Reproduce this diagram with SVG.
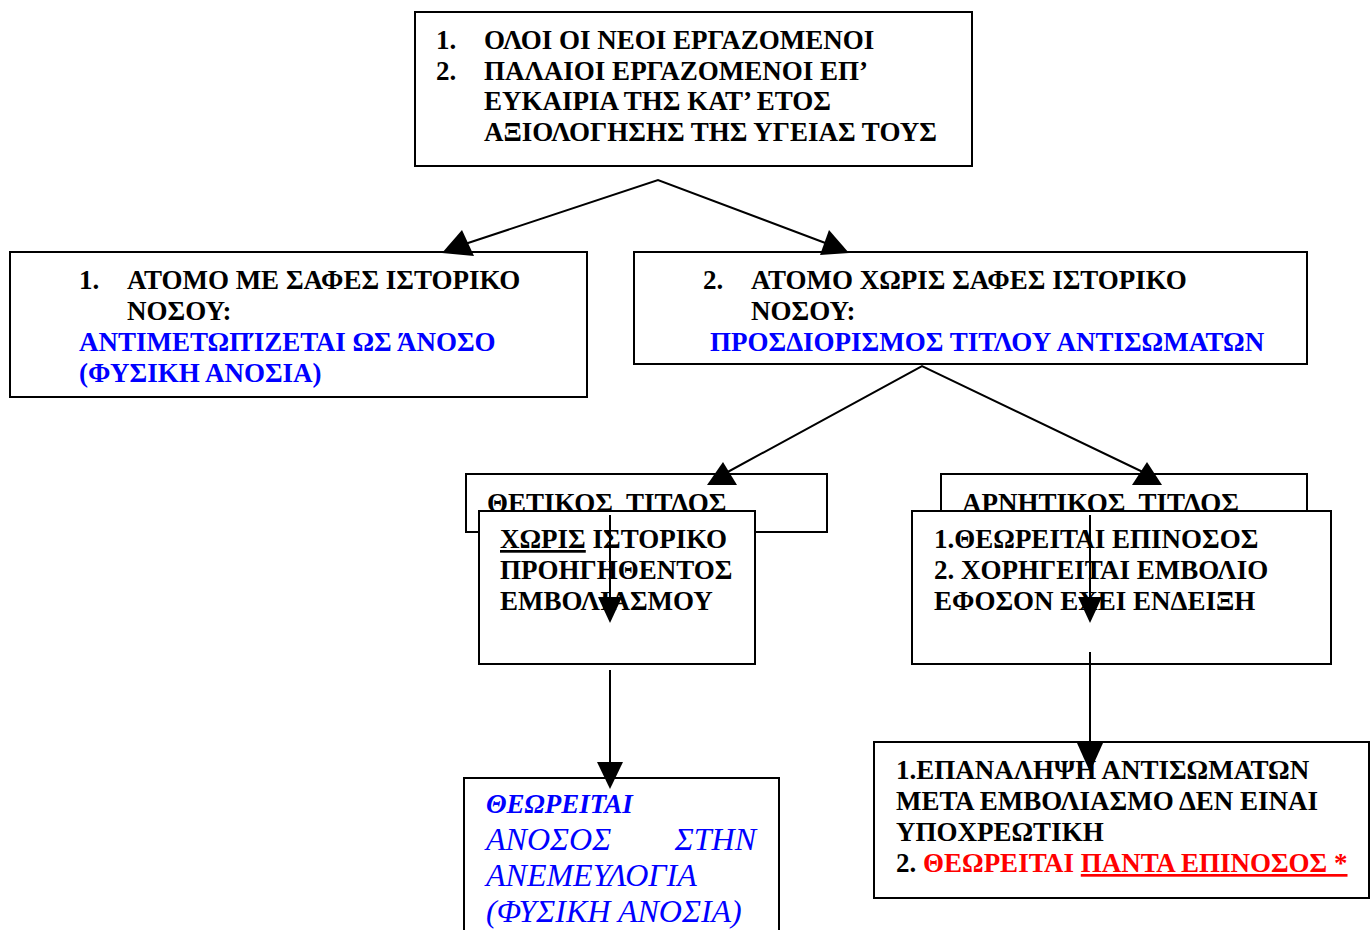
<svg xmlns="http://www.w3.org/2000/svg" width="1372" height="930" viewBox="0 0 1372 930">
<style>
.box{fill:#fff;stroke:#000;stroke-width:2}
text{font-family:"Liberation Serif","Times New Roman",serif;font-size:27px;font-weight:bold;fill:#000}
.b{fill:#0000ff}
.r{fill:#ff0000}
.it{font-style:italic;font-weight:normal;font-size:32px;fill:#0000ff}
.ln{stroke:#000;stroke-width:2;fill:none}
.hd{fill:#000}
</style>
<rect width="1372" height="930" fill="#fff"/>
<g id="n1">
<rect class="box" x="415" y="12" width="557" height="154"/>
<text x="436" y="49">1.</text><text x="484" y="49">ΟΛΟΙ ΟΙ ΝΕΟΙ ΕΡΓΑΖΟΜΕΝΟΙ</text>
<text x="436" y="80">2.</text><text x="484" y="80">ΠΑΛΑΙΟΙ ΕΡΓΑΖΟΜΕΝΟΙ ΕΠ’</text>
<text x="484" y="110">ΕΥΚΑΙΡΙΑ ΤΗΣ ΚΑΤ’ ΕΤΟΣ</text>
<text x="484" y="141">ΑΞΙΟΛΟΓΗΣΗΣ ΤΗΣ ΥΓΕΙΑΣ ΤΟΥΣ</text>
</g>
<g id="n2">
<rect class="box" x="10" y="252" width="577" height="145"/>
<text x="79" y="289">1.</text><text x="127" y="289">ΑΤΟΜΟ ΜΕ ΣΑΦΕΣ ΙΣΤΟΡΙΚΟ</text>
<text x="127" y="320">ΝΟΣΟΥ:</text>
<text class="b" x="79" y="351">ΑΝΤΙΜΕΤΩΠΊΖΕΤΑΙ ΩΣ ΆΝΟΣΟ</text>
<text class="b" x="79" y="382">(ΦΥΣΙΚΗ ΑΝΟΣΙΑ)</text>
</g>
<g id="n3">
<rect class="box" x="634" y="252" width="673" height="112"/>
<text x="703" y="289">2.</text><text x="751" y="289">ΑΤΟΜΟ ΧΩΡΙΣ ΣΑΦΕΣ ΙΣΤΟΡΙΚΟ</text>
<text x="751" y="320">ΝΟΣΟΥ:</text>
<text class="b" x="710" y="351">ΠΡΟΣΔΙΟΡΙΣΜΟΣ ΤΙΤΛΟΥ ΑΝΤΙΣΩΜΑΤΩΝ</text>
</g>
<g id="n4">
<rect class="box" x="466" y="474" width="361" height="58"/>
<text x="487" y="512" xml:space="preserve">ΘΕΤΙΚΟΣ  ΤΙΤΛΟΣ</text>
</g>
<g id="n6">
<rect class="box" x="941" y="474" width="366" height="50"/>
<text x="962" y="512" xml:space="preserve">ΑΡΝΗΤΙΚΟΣ  ΤΙΤΛΟΣ</text>
</g>
<g id="n5">
<rect class="box" x="479" y="511" width="276" height="153"/>
<text x="500" y="548"><tspan text-decoration="underline">ΧΩΡΙΣ</tspan> ΙΣΤΟΡΙΚΟ</text>
<text x="500" y="579">ΠΡΟΗΓΗΘΕΝΤΟΣ</text>
<text x="500" y="610">ΕΜΒΟΛΙΑΣΜΟΥ</text>
</g>
<g id="n7">
<rect class="box" x="912" y="511" width="419" height="153"/>
<text x="934" y="548">1.ΘΕΩΡΕΙΤΑΙ ΕΠΙΝΟΣΟΣ</text>
<text x="934" y="579">2. ΧΟΡΗΓΕΙΤΑΙ ΕΜΒΟΛΙΟ</text>
<text x="934" y="610">ΕΦΟΣΟΝ ΕΧΕΙ ΕΝΔΕΙΞΗ</text>
</g>
<g id="n8">
<rect class="box" x="464" y="778" width="315" height="160"/>
<text class="b" x="486" y="813" font-style="italic">ΘΕΩΡΕΙΤΑΙ</text>
<text class="it" x="486" y="850">ΑΝΟΣΟΣ</text><text class="it" x="756" y="850" text-anchor="end">ΣΤΗΝ</text>
<text class="it" x="486" y="886">ΑΝΕΜΕΥΛΟΓΙΑ</text>
<text class="it" x="486" y="922">(ΦΥΣΙΚΗ ΑΝΟΣΙΑ)</text>
</g>
<g id="n9">
<rect class="box" x="874" y="742" width="495" height="156"/>
<text x="896" y="779">1.ΕΠΑΝΑΛΗΨΗ ΑΝΤΙΣΩΜΑΤΩΝ</text>
<text x="896" y="810">ΜΕΤΑ ΕΜΒΟΛΙΑΣΜΟ ΔΕΝ ΕΙΝΑΙ</text>
<text x="896" y="841">ΥΠΟΧΡΕΩΤΙΚΗ</text>
<text x="896" y="872">2. <tspan class="r">ΘΕΩΡΕΙΤΑΙ </tspan><tspan class="r" text-decoration="underline">ΠΑΝΤΑ ΕΠΙΝΟΣΟΣ *</tspan></text>
</g>
<g id="connectors">
<path class="ln" d="M465,244 L658,180 L828,244"/>
<polygon class="hd" points="442,253 462,230 474,256"/>
<polygon class="hd" points="849,253 820,255 829,230"/>
<path class="ln" d="M724,474 L922,366 L1147,474"/>
<polygon class="hd" points="707,485 737,485 723,462"/>
<polygon class="hd" points="1132,485 1162,485 1147,462"/>
<line class="ln" x1="610" y1="515" x2="610" y2="600"/>
<polygon class="hd" points="598,597 622,597 610,623"/>
<line class="ln" x1="1090" y1="515" x2="1090" y2="600"/>
<polygon class="hd" points="1078,597 1102,597 1090,623"/>
<line class="ln" x1="610" y1="670" x2="610" y2="765"/>
<polygon class="hd" points="597,762 623,762 610,789"/>
<line class="ln" x1="1090" y1="652" x2="1090" y2="745"/>
<polygon class="hd" points="1077,743 1103,743 1090,772"/>
</g>
</svg>
